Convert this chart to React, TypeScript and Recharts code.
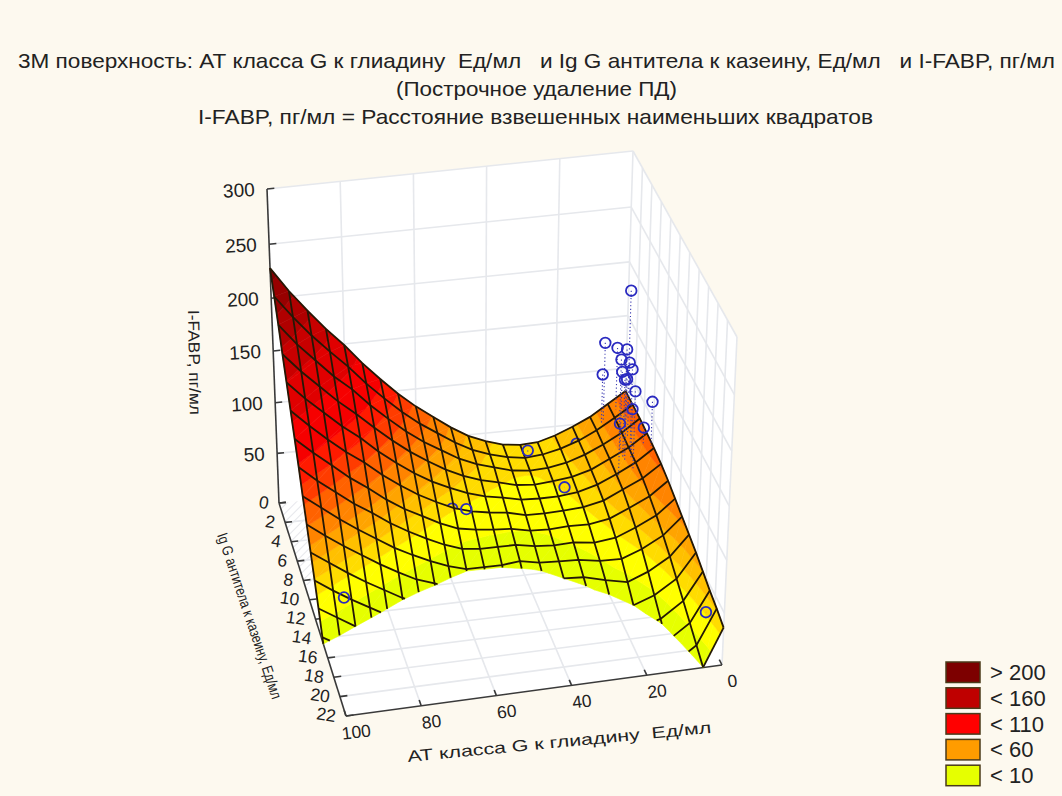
import React from 'react';
import { ScatterChart, Scatter, XAxis, YAxis } from 'recharts';

// ---------- data ----------
const titleLines = [
  '3М поверхность: АТ класса G к глиадину  Ед/мл   и Ig G антитела к казеину, Ед/мл   и I-FABP, пг/мл',
  '(Построчное удаление ПД)',
  'I-FABP, пг/мл = Расстояние взвешенных наименьших квадратов',
];
const zTicks = [0, 50, 100, 150, 200, 250, 300];
const cTicks = [0, 2, 4, 6, 8, 10, 12, 14, 16, 18, 20, 22];
const aTicks = [0, 20, 40, 60, 80, 100];
const legendLabels = ['> 200', '< 160', '< 110', '< 60', '< 10'];
const legendColors = ['#7d0000', '#bf0000', '#ff0000', '#ff9c00', '#e6ff00'];

// surface columns: AT class G value, mesh row spacing along Ig G read per column, height at each mesh row
const columnA = [0, 5, 10, 15, 20, 25, 30, 35, 40, 45, 50, 55, 60, 65, 70, 75, 80, 85, 90, 95, 100];
const columnRowStep = [1.57, 1.57, 1.5, 1.45, 1.35, 1.25, 1.2, 1.15, 1.1, 1.1, 1.1, 1.1, 1.1, 1.1, 1.1, 1.1, 1.1, 1.1, 1.1, 1.1, 1.1];
const z0 = [78, 78, 78, 77, 76, 74, 71, 67, 63, 59, 55, 50, 45, 41, 36];
const z5 = [67, 67, 66, 65, 64, 62, 58, 53, 47, 40, 32, 24, 16, 8, 0];
const z10 = [56, 56, 55, 54, 52, 50, 45, 39, 31, 22, 12, 2, -7, -16, -25];
const z15 = [48, 47, 46, 44, 42, 39, 34, 28, 20, 10, 0, -9, -18, -27, -36];
const z20 = [41, 40, 38, 36, 33, 30, 25, 19, 13, 6, -3, -11, -19, -27, -35];
const z25 = [36, 35, 33, 31, 27, 24, 20, 15, 9, 3, -3, -10, -17, -24, -31];
const z30 = [35, 33, 31, 28, 25, 21, 16, 11, 6, 0, -6, -12, -19, -26, -33];
const z35 = [37, 35, 32, 28, 24, 19, 14, 9, 3, -3, -9, -16, -23, -30, -37];
const z40 = [42, 39, 36, 31, 26, 21, 15, 9, 3, -4, -10, -17, -24, -31, -38];
const z45 = [49, 45, 41, 35, 29, 23, 16, 9, 1, -6, -14, -22, -30, -38, -46];
const z50 = [59, 54, 48, 41, 34, 26, 18, 9, 1, -8, -17, -26, -35, -45, -55];
const z55 = [71, 65, 58, 49, 41, 31, 21, 11, 1, -10, -21, -32, -43, -55, -66];
const z60 = [83, 76, 68, 59, 49, 39, 28, 17, 6, -5, -17, -29, -40, -52, -65];
const z65 = [97, 89, 80, 70, 59, 48, 37, 25, 13, 1, -11, -24, -37, -49, -62];
const z70 = [113, 104, 94, 83, 71, 59, 46, 34, 21, 7, -6, -20, -34, -49, -62];
const z75 = [130, 120, 109, 97, 84, 71, 57, 44, 30, 16, 1, -13, -28, -43, -58];
const z80 = [149, 138, 126, 112, 99, 85, 70, 56, 41, 26, 11, -4, -19, -35, -51];
const z85 = [166, 154, 140, 126, 112, 97, 82, 67, 52, 37, 21, 6, -10, -26, -42];
const z90 = [185, 171, 157, 142, 127, 111, 96, 80, 64, 48, 32, 16, 0, -16, -33];
const z95 = [205, 190, 174, 158, 142, 126, 110, 93, 77, 60, 44, 27, 11, -6, -23];
const z100 = [228, 211, 194, 176, 159, 142, 125, 108, 90, 73, 56, 39, 22, 4, -13];
const columnZ = [z0, z5, z10, z15, z20, z25, z30, z35, z40, z45, z50, z55, z60, z65, z70, z75, z80, z85, z90, z95, z100];

// colour bands of the surface
const bandLimits = [-1, 14, 30, 40, 50, 60, 72, 85, 97, 110, 135, 160, 180, 200, 220, 400];
const bandColors = ['#e6ff00', '#ffff00', '#ffdc00', '#ffc000', '#ffa400', '#ff8400', '#ff6200', '#ff3c00', '#ff1a00', '#f60000', '#e00000', '#c80000', '#b00000', '#980000', '#800000'];

// observed points
const pointA = [2, 7.5, 8, 4, 4, 5.5, 4.5, 5, 6.5, 7, 6.7, 6, 0.5, 6, 10, 4, 29, 22, 1, 51, 92];
const pointC = [2, 1, 1, 1, 3, 3, 4, 5, 4, 5, 5.2, 6.5, 6, 6, 6.5, 7, 1, 4, 19, 5, 12];
const pointZ = [190, 135, 105, 129, 144, 135, 140, 142, 132, 133, 135, 134, 118, 113, 105, 103, 38, 26, 26, 24, 18];
const pointFoot = [75, 60, 58, 70, 70, 62, 68, 64, 57, 58, 58, 60, 76, 65, 55, 88, 37, 26, 26, 24, 18];
// points partly covered by the surface: values and the mesh row that starts covering them
const coveredA = [15, 55];
const coveredC = [1, 5];
const coveredZ = [40, 26];
const coveredRow = [1, 5];

// ---------- view of the 3D box ----------
const W = 1062;
const H = 796;
const A_MAX = 100;
const C_MAX = 22;
const Z_MAX = 300;
// screen corners [a=0,c=0], [a=100,c=0], [a=0,c=22], [a=100,c=22]
const FLOOR = [[623, 470], [279, 503], [722, 665], [346, 716]];
const TOP = [[633, 151], [267, 189], [737, 337], [337, 386]];

type P3 = { a: number; c: number; z: number };

function bil(q: number[][], u: number, v: number, k: number) {
  return (1 - u) * (1 - v) * q[0][k] + u * (1 - v) * q[1][k] + (1 - u) * v * q[2][k] + u * v * q[3][k];
}
function project(a: number, c: number, z: number) {
  const u = a / A_MAX;
  const v = c / C_MAX;
  const t = z / Z_MAX;
  const f = (0.938 * t) / (1 - 0.062 * t);
  const fx = bil(FLOOR, u, v, 0);
  const fy = bil(FLOOR, u, v, 1);
  return { sx: fx + (bil(TOP, u, v, 0) - fx) * f, sy: fy + (bil(TOP, u, v, 1) - fy) * f };
}
const mix = (p: P3, q: P3, t: number): P3 => ({ a: p.a + (q.a - p.a) * t, c: p.c + (q.c - p.c) * t, z: p.z + (q.z - p.z) * t });

function clipPoly(poly: P3[], key: 'c' | 'z', limit: number, keepAbove: boolean) {
  const out: P3[] = [];
  const inside = (p: P3) => (keepAbove ? p[key] >= limit : p[key] <= limit);
  poly.forEach((p, i) => {
    const q = poly[(i + 1) % poly.length];
    if (inside(p)) out.push(p);
    if (inside(p) !== inside(q)) out.push(mix(p, q, (limit - p[key]) / (q[key] - p[key])));
  });
  return out;
}

const node = (j: number, i: number): P3 => ({ a: columnA[j], c: i * columnRowStep[j], z: columnZ[j][i] });
const ROWS = z0.length;

function polyDatum(poly: P3[], fill: string) {
  const pts = poly.map((p) => project(p.a, p.c, p.z));
  return { sx: pts[0].sx, sy: pts[0].sy, pts, fill };
}

function cellsOfRow(i: number) {
  const out: any[] = [];
  for (let j = 0; j < columnA.length - 1; j++) {
    const tris = [
      [node(j, i), node(j + 1, i), node(j + 1, i + 1)],
      [node(j, i), node(j + 1, i + 1), node(j, i + 1)],
    ];
    tris.forEach((tri) => {
      const cut = clipPoly(tri, 'c', C_MAX, false);
      if (cut.length < 3) return;
      bandColors.forEach((col, b) => {
        let band = clipPoly(cut, 'z', Math.max(0, bandLimits[b]), true);
        if (band.length >= 3) band = clipPoly(band, 'z', bandLimits[b + 1], false);
        if (band.length >= 3) out.push(polyDatum(band, col));
      });
    });
  }
  return out;
}

function clippedPieces(nodes: P3[]) {
  const pieces: { sx: number; sy: number }[][] = [];
  let cur: P3[] = [];
  for (let k = 0; k < nodes.length - 1; k++) {
    const p = nodes[k];
    const q = nodes[k + 1];
    let t0 = 0;
    let t1 = 1;
    const lim = (val0: number, val1: number) => {
      // keep where val >= 0
      if (val0 < 0 && val1 < 0) { t1 = -1; return; }
      if (val0 < 0) t0 = Math.max(t0, val0 / (val0 - val1));
      if (val1 < 0) t1 = Math.min(t1, val0 / (val0 - val1));
    };
    lim(p.z, q.z);
    lim(C_MAX - p.c, C_MAX - q.c);
    if (t1 <= t0) {
      if (cur.length > 1) pieces.push(cur.map((n) => project(n.a, n.c, n.z)));
      cur = [];
      continue;
    }
    if (t0 > 0 && cur.length > 1) {
      pieces.push(cur.map((n) => project(n.a, n.c, n.z)));
      cur = [];
    }
    if (cur.length === 0) cur.push(mix(p, q, t0));
    cur.push(mix(p, q, t1));
    if (t1 < 1) {
      pieces.push(cur.map((n) => project(n.a, n.c, n.z)));
      cur = [];
    }
  }
  if (cur.length > 1) pieces.push(cur.map((n) => project(n.a, n.c, n.z)));
  return pieces;
}

const meshLines: { sx: number; sy: number }[][] = [];
for (let i = 0; i < ROWS; i++) meshLines.push(...clippedPieces(columnA.map((_, j) => node(j, i))));
columnA.forEach((_, j) => meshLines.push(...clippedPieces(z0.map((__, i) => node(j, i)))));

const quad = (corners: number[][], fill: string) => polyDatum(corners.map(([a, c, z]) => ({ a, c, z })), fill);
const backWall = quad([[100, 0, 0], [0, 0, 0], [0, 0, 300], [100, 0, 300]], '#ffffff');
const sideWall = quad([[0, 0, 0], [0, 22, 0], [0, 22, 300], [0, 0, 300]], '#ffffff');
const floor = quad([[100, 0, 0], [0, 0, 0], [0, 22, 0], [100, 22, 0]], '#ffffff');
const hatch = quad([[100, 0, 0], [86, 0, 0], [86, 8.5, 0], [100, 8.5, 0]], 'url(#floorHatch)');

const seg = (a0: number, c0: number, z0v: number, a1: number, c1: number, z1v: number) => [project(a0, c0, z0v), project(a1, c1, z1v)];

const gridLines: { sx: number; sy: number }[][] = [];
zTicks.filter((z) => z > 0).forEach((z) => {
  gridLines.push(seg(100, 0, z, 0, 0, z));
  gridLines.push(seg(0, 0, z, 0, 22, z));
});
aTicks.filter((a) => a > 0 && a < 100).forEach((a) => {
  gridLines.push(seg(a, 0, 0, a, 0, 300));
  gridLines.push(seg(a, 0, 0, a, 22, 0));
});
cTicks.filter((c) => c > 0 && c < 22).forEach((c) => {
  gridLines.push(seg(0, c, 0, 0, c, 300));
  gridLines.push(seg(100, c, 0, 0, c, 0));
});
gridLines.push(seg(0, 0, 0, 0, 0, 300));
gridLines.push(seg(0, 22, 0, 0, 22, 300));

const axisLines: { sx: number; sy: number }[][] = [
  seg(100, 0, 0, 100, 0, 300),
  seg(100, 0, 0, 100, 22, 0),
  seg(100, 22, 0, 0, 22, 0),
];
zTicks.forEach((z) => axisLines.push(seg(100, 0, z, 98, 0, z)));
cTicks.forEach((c) => axisLines.push(seg(100, c, 0, 98, c, 0)));
aTicks.forEach((a) => axisLines.push(seg(a, 22, 0, a, 21.4, 0)));

const zLabels = zTicks.filter((z) => z > 0).map((z) => ({ ...project(100, 0, z), text: String(z) }));
const cLabels = cTicks.map((c) => ({ ...project(100, c, 0), text: String(c) }));
const aLabels = aTicks.map((a) => ({ ...project(a, 22, 0), text: String(a) }));

const points = pointA.map((a, k) => ({ ...project(a, pointC[k], pointZ[k]) }));
const stems = pointA.map((a, k) => [project(a, pointC[k], pointZ[k]), project(a, pointC[k], pointFoot[k])]);
const covered = coveredA.map((a, k) => ({ ...project(a, coveredC[k], coveredZ[k]), row: coveredRow[k] }));

// ---------- shapes ----------
const noMark = () => <g />;
const polyShape = (p: any) => {
  const d = p.payload;
  const dx = p.cx - d.sx;
  const dy = p.cy - d.sy;
  const pts = d.pts.map((q: any) => `${(q.sx + dx).toFixed(2)},${(q.sy + dy).toFixed(2)}`).join(' ');
  const solid = d.fill.startsWith('#');
  return <polygon points={pts} fill={d.fill} stroke={solid ? d.fill : 'none'} strokeWidth={0.6} />;
};
const circleShape = (p: any) => <circle cx={p.cx} cy={p.cy} r={5.3} fill="none" stroke="#2a2ac0" strokeWidth={1.8} />;
const FONT = '"Liberation Sans", Arial, sans-serif';
const labelShape = (dx: number, dy: number, anchor: string, rot: number, size: number) => (p: any) => (
  <text
    x={p.cx + dx}
    y={p.cy + dy}
    textAnchor={anchor}
    fontFamily={FONT}
    fontSize={size}
    fill="#222"
    transform={`rotate(${rot} ${p.cx + dx} ${p.cy + dy})`}
  >
    {p.payload.text}
  </text>
);

const lineSeries = (lines: any[], name: string, line: any) =>
  lines.map((data, k) => <Scatter key={`${name}${k}`} data={data} line={line} shape={noMark} isAnimationActive={false} />);

const surfaceRows: any[] = [];
for (let i = 0; i < ROWS - 1; i++) {
  covered.forEach((pt, k) => {
    if (pt.row === i) surfaceRows.push(<Scatter key={`cov${k}`} data={[pt]} shape={circleShape} isAnimationActive={false} />);
  });
  surfaceRows.push(<Scatter key={`row${i}`} data={cellsOfRow(i)} shape={polyShape} isAnimationActive={false} />);
}

export default function App() {
  return (
    <div style={{ position: 'absolute', left: 0, top: 0, width: W, height: H, background: '#fdf9ef', overflow: 'hidden' }}>
      <ScatterChart width={W} height={H} margin={{ top: 0, right: 0, bottom: 0, left: 0 }}>
        <defs>
          <pattern id="floorHatch" width="6" height="6" patternUnits="userSpaceOnUse" patternTransform="rotate(45)">
            <line x1="0" y1="0" x2="0" y2="6" stroke="#dcdde2" strokeWidth="1.4" />
          </pattern>
        </defs>
        <XAxis type="number" dataKey="sx" domain={[0, W]} hide />
        <YAxis type="number" dataKey="sy" domain={[0, H]} reversed hide />

        <Scatter data={[backWall, sideWall, floor, hatch]} shape={polyShape} isAnimationActive={false} />
        {lineSeries(gridLines, 'grid', { stroke: '#e6e8ec', strokeWidth: 1.6 })}
        {lineSeries(axisLines, 'axis', { stroke: '#3a3a3a', strokeWidth: 1.6 })}

        {surfaceRows}
        {lineSeries(meshLines, 'mesh', { stroke: '#241806', strokeWidth: 1.8 })}
        {lineSeries(stems, 'stem', { stroke: '#3a3ab0', strokeWidth: 1.1, strokeDasharray: '1.2 2.4' })}
        <Scatter data={points} shape={circleShape} isAnimationActive={false} />

        <Scatter data={zLabels} shape={labelShape(-12, 7, 'end', -3, 19)} isAnimationActive={false} />
        <Scatter data={cLabels} shape={labelShape(-11, 6, 'end', 8, 17.5)} isAnimationActive={false} />
        <Scatter data={aLabels} shape={labelShape(11, 22, 'middle', -7, 17.5)} isAnimationActive={false} />

        <text x={18} y={68} fontFamily={FONT} fontSize={21} fill="#222" textLength={1037} lengthAdjust="spacingAndGlyphs" style={{ whiteSpace: 'pre' }}>{titleLines[0]}</text>
        <text x={396} y={96} fontFamily={FONT} fontSize={21} fill="#222" textLength={281} lengthAdjust="spacingAndGlyphs">{titleLines[1]}</text>
        <text x={198} y={124} fontFamily={FONT} fontSize={21} fill="#222" textLength={675} lengthAdjust="spacingAndGlyphs">{titleLines[2]}</text>

        <text x={0} y={0} transform="translate(188 310) rotate(89)" fontFamily={FONT} fontSize={16} fill="#222" textLength={105} lengthAdjust="spacingAndGlyphs">I-FABP, пг/мл</text>
        <text x={0} y={0} transform="translate(217 535) rotate(71.5)" fontFamily={FONT} fontSize={15} fill="#222" textLength={174} lengthAdjust="spacingAndGlyphs">Ig G антитела к казеину, Ед/мл</text>
        <text x={0} y={0} transform="translate(408 762) rotate(-5.5)" fontFamily={FONT} fontSize={16} fill="#222" textLength={305} lengthAdjust="spacingAndGlyphs" style={{ whiteSpace: 'pre' }}>АТ класса G к глиадину  Ед/мл</text>

        {legendLabels.map((t, k) => (
          <g key={t}>
            <rect x={946} y={662 + k * 25.8} width={34} height={20.5} fill={legendColors[k]} stroke="#4a3a1a" strokeWidth={1.5} />
            <text x={990} y={680 + k * 25.8} fontFamily={FONT} fontSize={22} fill="#222">{t}</text>
          </g>
        ))}
      </ScatterChart>
    </div>
  );
}
